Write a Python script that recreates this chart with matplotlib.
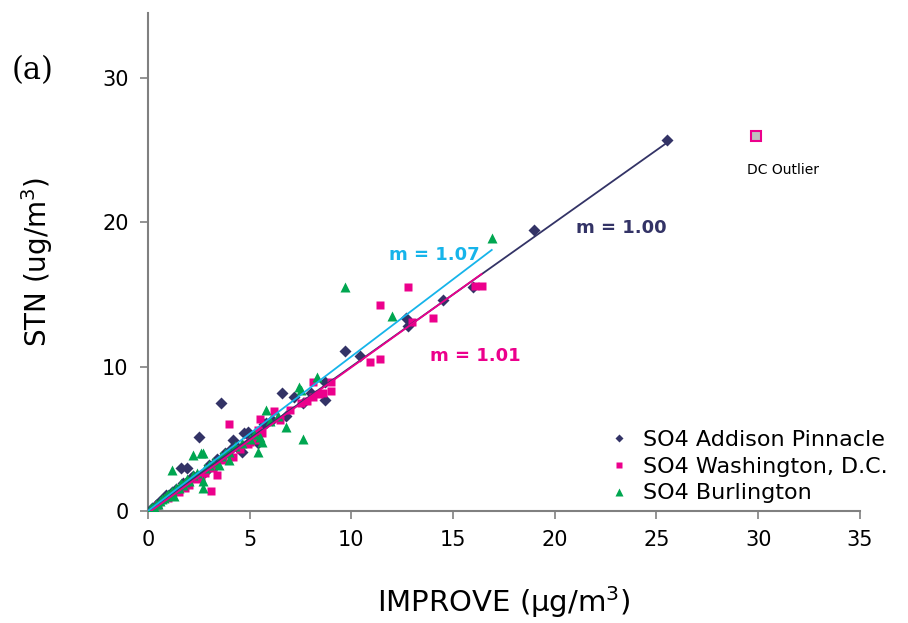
import matplotlib
matplotlib.use('Agg')
import matplotlib.pyplot as plt
import numpy as np

# SO4 Addison Pinnacle
add_x = [25.5, 19.0, 16.0, 14.5, 12.7, 12.8, 10.4, 9.7, 8.7, 8.7, 7.2, 6.6, 6.8, 5.8, 4.7, 4.6, 4.2, 3.6, 2.5, 1.6,
         0.2, 0.4, 0.6, 0.8, 1.0, 1.2, 1.4, 1.9, 2.1, 2.4, 2.8, 3.1, 3.4, 3.8, 4.1, 4.4, 5.0, 5.4, 6.1, 7.6,
         8.0, 0.9, 1.7, 2.2, 3.0, 4.9, 5.4, 5.7, 3.3, 1.9]
add_y = [25.7, 19.5, 15.5, 14.6, 13.4, 12.8, 10.7, 11.1, 8.9, 7.7, 7.9, 8.2, 6.6, 6.1, 5.4, 4.1, 4.9, 7.5, 5.1, 3.0,
         0.2, 0.4, 0.7, 0.9, 1.0, 1.3, 1.5, 2.0, 2.3, 2.4, 2.7, 3.1, 3.6, 4.0, 4.3, 4.4, 5.1, 5.4, 6.3, 7.5,
         8.2, 1.1, 1.9, 2.4, 3.2, 5.5, 4.7, 6.0, 3.1, 3.0]

# SO4 Washington, D.C.
was_x = [16.1, 16.4, 14.0, 12.8, 11.4, 13.0, 11.4, 10.9, 9.0, 9.0, 8.6, 8.4, 8.1, 8.1, 6.2, 5.5, 5.4, 5.3, 4.9, 4.2,
         4.0, 3.4, 3.1, 0.5, 1.0, 1.5, 2.0, 2.4, 2.8, 3.2, 3.7, 4.5, 5.0, 5.6, 6.5, 7.0, 7.8, 1.8, 2.6, 7.5]
was_y = [15.6, 15.6, 13.4, 15.5, 14.3, 13.1, 10.5, 10.3, 8.9, 8.3, 8.2, 8.1, 8.9, 7.9, 6.9, 6.4, 5.6, 4.9, 4.6, 3.7,
         6.0, 2.5, 1.4, 0.4, 0.9, 1.3, 1.8, 2.2, 2.6, 3.0, 3.5, 4.3, 4.8, 5.4, 6.3, 7.0, 7.6, 1.6, 2.3, 7.5]

# SO4 Burlington
bur_x = [16.9, 9.7, 12.0, 8.3, 7.4, 7.5, 7.6, 6.8, 5.8, 5.5, 5.4, 2.7, 3.5, 2.2, 2.6, 1.2, 2.7, 2.7, 1.7, 1.3,
         0.1, 0.2, 0.3, 0.4, 0.5, 0.6, 0.7, 0.8, 0.9, 1.0, 1.1, 1.2, 1.4, 1.5, 1.6, 1.8, 1.9, 2.0, 2.2, 2.4,
         2.8, 3.0, 3.2, 3.6, 3.8, 4.0, 4.3, 4.6, 5.0, 5.2, 6.0, 6.4, 5.6, 4.0]
bur_y = [18.9, 15.5, 13.5, 9.3, 8.6, 8.4, 5.0, 5.8, 7.0, 5.1, 4.1, 4.0, 3.2, 3.9, 4.0, 2.8, 2.1, 1.6, 1.8, 1.0,
         0.1, 0.3, 0.3, 0.5, 0.5, 0.7, 0.8, 0.9, 1.0, 1.2, 1.2, 1.4, 1.6, 1.6, 1.9, 2.0, 2.2, 2.1, 2.5, 2.6,
         3.0, 3.2, 3.4, 3.8, 4.0, 4.1, 4.5, 4.7, 5.0, 5.3, 6.2, 6.6, 4.8, 3.5]

# DC outlier
out_x, out_y = 29.9, 26.0

# regression lines: slope, intercept, x end
fit_slope = [1.00, 1.01, 1.07]
fit_icpt = [0.0, -0.15, 0.0]
fit_xmax = [25.5, 16.4, 16.9]

navy = '#333366'
pink = '#ec008c'
green = '#00a650'
cyan = '#16b4ea'

plt.rcParams['font.family'] = 'DejaVu Sans'

fig = plt.figure(figsize=(9.08, 6.23), dpi=100)
ax = fig.add_axes([0.163, 0.180, 0.784, 0.799])

ax.plot(add_x, add_y, 'D', color=navy, ms=6, mec='none', label='SO4 Addison Pinnacle', zorder=3)
ax.plot(was_x, was_y, 's', color=pink, ms=6, mec='none', label='SO4 Washington, D.C.', zorder=3)
ax.plot(bur_x, bur_y, '^', color=green, ms=7.5, mec='none', label='SO4 Burlington', zorder=3)
ax.plot(out_x, out_y, 's', color='#c0c0c0', mec=pink, mew=1.5, ms=6.5, zorder=3)

for m, b, xm, c in zip(fit_slope, fit_icpt, fit_xmax, [navy, pink, cyan]):
    xs = np.array([0, xm])
    ax.plot(xs, m * xs + b, color=c, lw=1.3, zorder=4)

ax.text(23.25, 19.6, 'm = 1.00', color=navy, fontsize=13, fontweight='bold', ha='center', va='center')
ax.text(14.1, 17.7, 'm = 1.07', color=cyan, fontsize=13, fontweight='bold', ha='center', va='center')
ax.text(16.1, 10.7, 'm = 1.01', color=pink, fontsize=13, fontweight='bold', ha='center', va='center')
ax.text(31.2, 23.6, 'DC Outlier', fontsize=10, ha='center', va='center')

ax.set_xlim(0, 35)
ax.set_ylim(0, 34.5)
ax.set_xticks(range(0, 36, 5))
ax.set_yticks([0, 10, 20, 30])
ax.spines['top'].set_visible(False)
ax.spines['right'].set_visible(False)
for s in ['left', 'bottom']:
    ax.spines[s].set_color('#808080')
    ax.spines[s].set_linewidth(1.5)
ax.tick_params(axis='both', direction='out', length=6, width=1.2, color='#808080', labelsize=15, pad=8)

ax.set_xlabel('IMPROVE (\u00b5g/m$^3$)', fontsize=21, labelpad=24)
ax.set_ylabel('STN (ug/m$^3$)', fontsize=20, labelpad=34)

fig.text(0.036, 0.887, '(a)', fontsize=22, family='DejaVu Serif', ha='center', va='center')

ax.legend(loc='lower right', bbox_to_anchor=(1.0, 0.16), bbox_transform=fig.transFigure,
          frameon=False, fontsize=16, markerscale=0.7, handlelength=0.6, handletextpad=0.8,
          labelspacing=0.3)

plt.savefig('out.png', dpi=100)
